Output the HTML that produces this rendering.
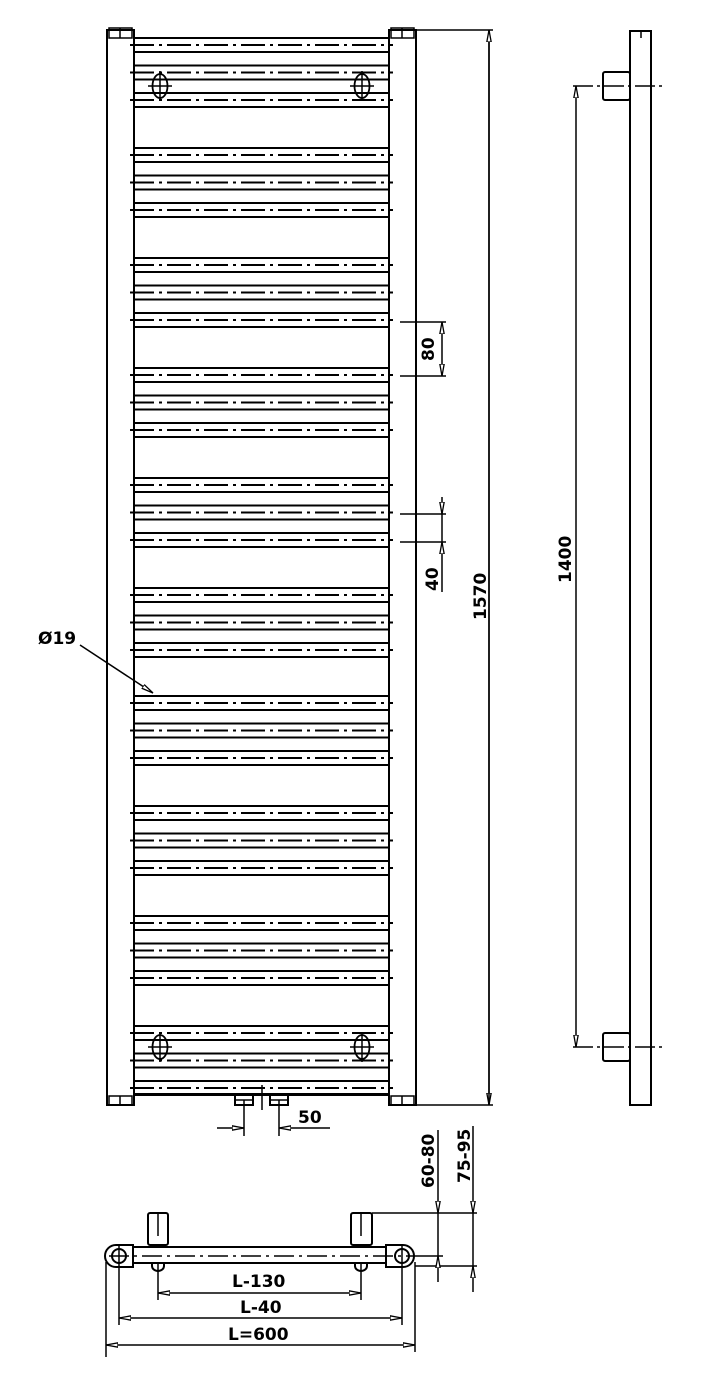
<!DOCTYPE html>
<html><head><meta charset="utf-8"><style>
html,body{margin:0;padding:0;background:#fff}
svg{display:block}
text{font-family:"DejaVu Sans","Liberation Sans",sans-serif;font-weight:bold;font-size:17px;fill:#000}
</style></head><body>
<svg width="717" height="1373" viewBox="0 0 717 1373" xmlns="http://www.w3.org/2000/svg">
<defs>
<g id="tube">
<line x1="134" y1="-7" x2="389" y2="-7" stroke="#000" stroke-width="2"/>
<line x1="134" y1="7" x2="389" y2="7" stroke="#000" stroke-width="2"/>
<line x1="130" y1="0" x2="393" y2="0" stroke="#000" stroke-width="2" stroke-dasharray="24,5,3,5"/>
</g>
<g id="grp">
<use href="#tube" y="0"/><use href="#tube" y="27.5"/><use href="#tube" y="55"/>
</g>
<g id="hole">
<ellipse cx="0" cy="0" rx="7.5" ry="12" fill="none" stroke="#000" stroke-width="1.8"/>
<line x1="-12" y1="0" x2="12" y2="0" stroke="#000" stroke-width="1.5"/>
<line x1="0" y1="-15" x2="0" y2="15" stroke="#000" stroke-width="1.5"/>
</g>
<marker id="ar" viewBox="0 0 12 6" refX="12" refY="3" markerWidth="12" markerHeight="6" orient="auto" markerUnits="userSpaceOnUse">
<path d="M0,0.8 L12,3 L0,5.2 Z" fill="#fff" stroke="#000" stroke-width="1.3"/>
</marker>
</defs>
<g stroke="#000" fill="none" stroke-width="2">
<rect x="107" y="30" width="27" height="1075"/>
<rect x="389" y="30" width="27" height="1075"/>
<rect x="109" y="28" width="23" height="10" stroke-width="1.5"/>
<rect x="391" y="28" width="23" height="10" stroke-width="1.5"/>
<line x1="120" y1="28" x2="120" y2="38" stroke-width="1.5"/>
<line x1="402" y1="28" x2="402" y2="38" stroke-width="1.5"/>
<rect x="109" y="1096" width="23" height="9" stroke-width="1.5"/>
<rect x="391" y="1096" width="23" height="9" stroke-width="1.5"/>
<line x1="120" y1="1096" x2="120" y2="1105" stroke-width="1.5"/>
<line x1="402" y1="1096" x2="402" y2="1105" stroke-width="1.5"/>
<line x1="134" y1="38" x2="389" y2="38"/>
<line x1="134" y1="1094" x2="389" y2="1094"/>
</g>
<use href="#grp" y="45"/><use href="#grp" y="155"/><use href="#grp" y="265"/>
<use href="#grp" y="375"/><use href="#grp" y="485"/><use href="#grp" y="595"/>
<use href="#grp" y="703"/><use href="#grp" y="813"/><use href="#grp" y="923"/>
<use href="#grp" y="1033"/>
<use href="#hole" x="160" y="86"/><use href="#hole" x="362" y="86"/>
<use href="#hole" x="160" y="1047"/><use href="#hole" x="362" y="1047"/>
<g stroke="#000" fill="none" stroke-width="1.5">
<line x1="416" y1="30" x2="493" y2="30"/>
<line x1="416" y1="1105" x2="493" y2="1105"/>
<line x1="489" y1="30" x2="489" y2="1105" marker-end="url(#ar)"/>
<line x1="489" y1="1105" x2="489" y2="30" marker-end="url(#ar)"/>
<line x1="400" y1="322" x2="446" y2="322"/>
<line x1="400" y1="376" x2="446" y2="376"/>
<line x1="442" y1="349" x2="442" y2="322" marker-end="url(#ar)"/>
<line x1="442" y1="349" x2="442" y2="376" marker-end="url(#ar)"/>
<line x1="400" y1="514" x2="446" y2="514"/>
<line x1="400" y1="542" x2="446" y2="542"/>
<line x1="442" y1="497" x2="442" y2="514" marker-end="url(#ar)"/>
<line x1="442" y1="592" x2="442" y2="542" marker-end="url(#ar)"/>
<line x1="442" y1="514" x2="442" y2="542"/>
<line x1="80" y1="645" x2="153" y2="693" marker-end="url(#ar)"/>
<rect x="630" y="31" width="21" height="1074" stroke-width="2"/>
<line x1="641" y1="31" x2="641" y2="38"/>
<rect x="603" y="72" width="27" height="28" rx="2" stroke-width="2"/>
<rect x="603" y="1033" width="27" height="28" rx="2" stroke-width="2"/>
<line x1="573" y1="86" x2="662" y2="86" stroke-dasharray="20,4,3,4"/>
<line x1="573" y1="1047" x2="662" y2="1047" stroke-dasharray="20,4,3,4"/>
<line x1="576" y1="560" x2="576" y2="86" marker-end="url(#ar)"/>
<line x1="576" y1="560" x2="576" y2="1047" marker-end="url(#ar)"/>
<rect x="235" y="1095" width="18" height="10" stroke-width="2"/>
<rect x="270" y="1095" width="18" height="10" stroke-width="2"/>
<line x1="235" y1="1100" x2="253" y2="1100"/><line x1="270" y1="1100" x2="288" y2="1100"/>
<line x1="262" y1="1085" x2="262" y2="1110"/>
<line x1="244" y1="1100" x2="244" y2="1136"/>
<line x1="279" y1="1100" x2="279" y2="1136"/>
<line x1="217" y1="1128" x2="244" y2="1128" marker-end="url(#ar)"/>
<line x1="330" y1="1128" x2="279" y2="1128" marker-end="url(#ar)"/>
<g stroke-width="2">
<rect x="148" y="1213" width="20" height="32" rx="2"/>
<rect x="351" y="1213" width="21" height="32" rx="2"/>
<rect x="133" y="1247" width="253" height="16"/>
<path d="M133,1245 H116 A11,11 0 0 0 116,1267 H133 Z"/>
<path d="M386,1245 H403 A11,11 0 0 1 403,1267 H386 Z"/>
<circle cx="119" cy="1256" r="7"/>
<circle cx="402" cy="1256" r="7"/>
<path d="M152,1263 v3 a6,5 0 0 0 12,0 v-3"/>
<path d="M355,1263 v3 a6,5 0 0 0 12,0 v-3"/>
</g>
<line x1="109" y1="1256" x2="412" y2="1256" stroke-dasharray="20,5,3,5"/>
<line x1="119" y1="1245" x2="119" y2="1267"/><line x1="402" y1="1245" x2="402" y2="1267"/>
<line x1="158" y1="1213" x2="158" y2="1236"/><line x1="361" y1="1213" x2="361" y2="1236"/>
<line x1="158" y1="1263" x2="158" y2="1300"/><line x1="361" y1="1263" x2="361" y2="1300"/>
<line x1="119" y1="1267" x2="119" y2="1325"/><line x1="402" y1="1267" x2="402" y2="1325"/>
<line x1="106" y1="1262" x2="106" y2="1357"/><line x1="415" y1="1262" x2="415" y2="1352"/>
<line x1="260" y1="1293" x2="158" y2="1293" marker-end="url(#ar)"/>
<line x1="260" y1="1293" x2="361" y2="1293" marker-end="url(#ar)"/>
<line x1="260" y1="1318" x2="119" y2="1318" marker-end="url(#ar)"/>
<line x1="260" y1="1318" x2="402" y2="1318" marker-end="url(#ar)"/>
<line x1="260" y1="1345" x2="106" y2="1345" marker-end="url(#ar)"/>
<line x1="260" y1="1345" x2="415" y2="1345" marker-end="url(#ar)"/>
<line x1="372" y1="1213" x2="477" y2="1213"/>
<line x1="412" y1="1256" x2="443" y2="1256"/>
<line x1="415" y1="1266" x2="477" y2="1266"/>
<line x1="438" y1="1130" x2="438" y2="1213" marker-end="url(#ar)"/>
<line x1="438" y1="1282" x2="438" y2="1256" marker-end="url(#ar)"/>
<line x1="438" y1="1213" x2="438" y2="1256"/>
<line x1="473" y1="1126" x2="473" y2="1213" marker-end="url(#ar)"/>
<line x1="473" y1="1292" x2="473" y2="1266" marker-end="url(#ar)"/>
<line x1="473" y1="1213" x2="473" y2="1266"/>
</g>
<text x="38" y="644">Ø19</text>
<text x="298" y="1123">50</text>
<text transform="translate(434,361) rotate(-90)">80</text>
<text transform="translate(438,591) rotate(-90)">40</text>
<text transform="translate(486,620) rotate(-90)">1570</text>
<text transform="translate(571,583) rotate(-90)">1400</text>
<text transform="translate(434,1188) rotate(-90)">60-80</text>
<text transform="translate(470,1183) rotate(-90)">75-95</text>
<text x="232" y="1287">L-130</text>
<text x="240" y="1313">L-40</text>
<text x="228" y="1340">L=600</text>
</svg>
</body></html>
